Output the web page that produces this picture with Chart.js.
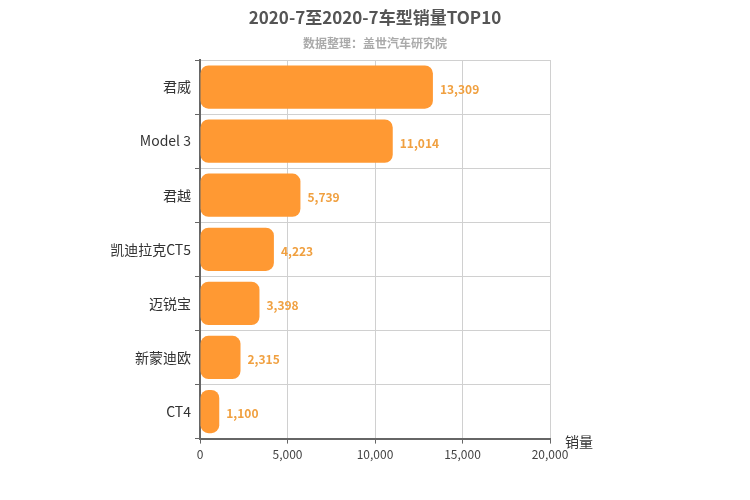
<!DOCTYPE html>
<html><head><meta charset="utf-8">
<script src="https://cdn.jsdelivr.net/npm/chart.js@4"></script>
<style>body{margin:0}#wrap{width:750px;height:500px}</style>
</head><body><div id="wrap"><canvas id="c"></canvas></div>
<script>
const categories = ['君威', 'Model 3', '君越', '凯迪拉克CT5', '迈锐宝', '新蒙迪欧', 'CT4'];
const sales = [13309, 11014, 5739, 4223, 3398, 2315, 1100];
const xTicks = [0, 5000, 10000, 15000, 20000];

const font = "'Microsoft YaHei', 'Noto Sans CJK SC', sans-serif";
const barColor = '#ff9933';

const extras = {
  id: 'extras',
  afterDatasetsDraw(chart) {
    const { ctx, chartArea } = chart;
    const meta = chart.getDatasetMeta(0);
    ctx.save();
    ctx.font = `bold 12px ${font}`;
    ctx.fillStyle = '#f0a040';
    ctx.textBaseline = 'middle';
    meta.data.forEach((bar, i) => {
      ctx.fillText(sales[i].toLocaleString('en-US'), bar.x + 7, bar.y + 2);
    });
    ctx.font = `14px ${font}`;
    ctx.fillStyle = '#333';
    ctx.textBaseline = 'bottom';
    ctx.fillText('销量', chartArea.right + 15, chartArea.bottom + 10);
    // title and subtitle centred on the whole canvas
    ctx.textAlign = 'center';
    ctx.textBaseline = 'middle';
    ctx.font = `bold 17px ${font}`;
    ctx.fillStyle = '#555';
    ctx.fillText('2020-7至2020-7车型销量TOP10', 375, 18);
    ctx.font = `bold 12px ${font}`;
    ctx.fillStyle = '#aaa';
    ctx.fillText('数据整理：盖世汽车研究院', 375, 43);
    ctx.restore();
  }
};

new Chart(document.getElementById('c'), {
  type: 'bar',
  data: {
    labels: categories,
    datasets: [{
      data: sales,
      backgroundColor: barColor,
      borderRadius: 8,
      borderSkipped: false,
      barPercentage: 0.8,
      categoryPercentage: 1
    }]
  },
  options: {
    indexAxis: 'y',
    responsive: true,
    maintainAspectRatio: false,
    animation: false,
    layout: { padding: { left: 0, right: 200, top: 60, bottom: 34 } },
    scales: {
      x: {
        min: 0, max: 20000,
        afterBuildTicks: s => { s.ticks = xTicks.map(v => ({ value: v })); },
        grid: { color: '#d0d0d0', tickLength: 5, tickColor: '#666' },
        border: { color: '#666', width: 2 },
        ticks: { color: '#444', font: { family: font, size: 12 }, padding: 4,
          callback: v => v.toLocaleString('en-US') }
      },
      y: {
        afterFit: s => { s.width = 200; },
        grid: { color: '#d0d0d0', tickLength: 5, tickColor: '#666' },
        border: { color: '#666', width: 2 },
        ticks: { color: '#333', font: { family: font, size: 14 }, padding: 4 }
      }
    },
    plugins: {
      legend: { display: false },
      tooltip: { enabled: false }
    }
  },
  plugins: [extras]
});
</script></body></html>
